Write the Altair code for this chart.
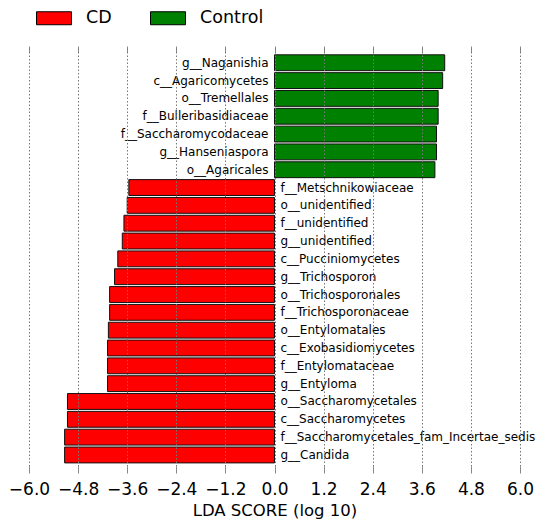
import altair as alt
import pandas as pd

features = [
    "g__Naganishia", "c__Agaricomycetes", "o__Tremellales", "f__Bulleribasidiaceae",
    "f__Saccharomycodaceae", "g__Hanseniaspora", "o__Agaricales",
    "f__Metschnikowiaceae", "o__unidentified", "f__unidentified", "g__unidentified",
    "c__Pucciniomycetes", "g__Trichosporon", "o__Trichosporonales", "f__Trichosporonaceae",
    "o__Entylomatales", "c__Exobasidiomycetes", "f__Entylomataceae", "g__Entyloma",
    "o__Saccharomycetales", "c__Saccharomycetes", "f__Saccharomycetales_fam_Incertae_sedis",
    "g__Candida",
]
lda_scores = [
    4.16, 4.11, 4.00, 4.00, 3.96, 3.96, 3.92,
    -3.56, -3.60, -3.68, -3.72, -3.83, -3.91, -4.03, -4.03,
    -4.06, -4.08, -4.08, -4.08, -5.06, -5.06, -5.13, -5.13,
]
groups = ["Control"] * 7 + ["CD"] * 16
legend_groups = ["CD", "Control"]
group_colors = ["#ff0000", "#008000"]
tick_values = [-6.0, -4.8, -3.6, -2.4, -1.2, 0.0, 1.2, 2.4, 3.6, 4.8, 6.0]

df = pd.DataFrame({"feature": features, "lda": lda_scores, "group": groups,
                   "base": [0.0] * len(features)})

FONT = "DejaVu Sans"
xscale = alt.Scale(domain=[-6, 6], nice=False, zero=False)
yenc = alt.Y("feature:N", sort=features, axis=None,
             scale=alt.Scale(paddingInner=0.11, paddingOuter=0.334, align=0.74))

bars = alt.Chart(df).mark_bar(stroke="#111", strokeWidth=1, opacity=1).encode(
    x=alt.X("lda:Q", scale=xscale,
            axis=alt.Axis(values=tick_values, format=".1f", title="LDA SCORE (log 10)",
                          grid=True, gridDash=[1.5, 2], gridColor="#777", gridWidth=1,
                          domain=False, tickSize=7, tickColor="#888", labelFontSize=17,
                          labelFont=FONT, labelColor="black", labelPadding=8,
                          titleFont=FONT, titleFontSize=16.5, titleFontWeight="normal",
                          titleColor="black", titlePadding=5, zindex=1, labelFlush=False,
                          labelOverlap=False)),
    x2="base:Q",
    y=yenc,
    color=alt.Color("group:N",
                    scale=alt.Scale(domain=legend_groups, range=group_colors),
                    legend=alt.Legend(orient="none", legendX=7, legendY=-46,
                                      direction="horizontal", title=None,
                                      symbolType="M-1,-0.371H1V0.371H-1Z", symbolSize=1225,
                                      symbolStrokeColor="black", symbolStrokeWidth=1,
                                      symbolOpacity=1, labelFontSize=17.5, labelFont=FONT,
                                      labelColor="black", labelOffset=14, columnPadding=36,
                                      padding=0)),
)

pos_text = alt.Chart(df).transform_filter("datum.lda > 0").mark_text(
    align="right", dx=-6, fontSize=12, font=FONT, color="black"
).encode(
    x=alt.X("base:Q", scale=xscale,
            axis=alt.Axis(orient="top", values=tick_values, labels=False, grid=False,
                          domain=False, ticks=True, tickSize=6, offset=-6, tickColor="#888",
                          tickWidth=1, title=None)),
    y=yenc,
    text="feature:N",
)

neg_text = alt.Chart(df).transform_filter("datum.lda < 0").mark_text(
    align="left", dx=6, fontSize=12, font=FONT, color="black"
).encode(
    x=alt.X("base:Q", scale=xscale, axis=None),
    y=yenc,
    text="feature:N",
)

chart = alt.layer(bars, pos_text, neg_text).resolve_axis(x="independent").properties(
    width=491, height=420,
    autosize=alt.AutoSizeParams(type="none"),
    padding={"left": 21, "top": 38, "right": 17, "bottom": 54},
).configure_view(stroke=None)

chart.save("out.html", embed_options={"renderer": "svg", "actions": False})
